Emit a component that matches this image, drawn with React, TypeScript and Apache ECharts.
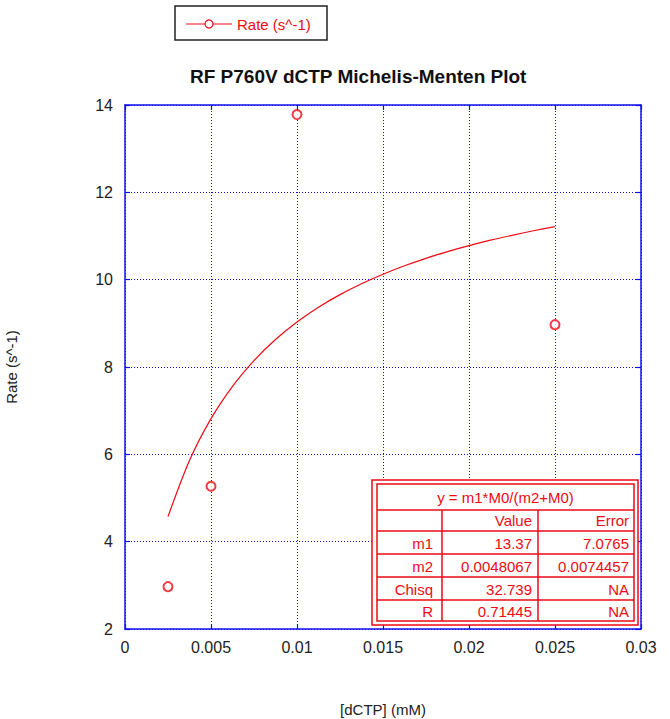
import React, { useEffect, useRef } from "react";
import * as echarts from "echarts";

const seriesName = "Rate (s^-1)";
const chartTitle = "RF P760V dCTP Michelis-Menten Plot";
const xAxisName = "[dCTP] (mM)";
const yAxisName = "Rate (s^-1)";

// measured points
const concentrations = [0.0025, 0.005, 0.01, 0.025];
const rates = [2.97, 5.27, 13.78, 8.97];

// fitted curve
const curveX = [0.0025, 0.00375, 0.005, 0.00625, 0.0075, 0.00875, 0.01, 0.01125, 0.0125, 0.01375, 0.015, 0.01625, 0.0175, 0.01875, 0.02, 0.02125, 0.0225, 0.02375, 0.025];
const curveY = [4.574, 5.859, 6.817, 7.558, 8.148, 8.630, 9.030, 9.368, 9.657, 9.907, 10.125, 10.318, 10.489, 10.642, 10.779, 10.904, 11.016, 11.120, 11.214];

// fit table
const fitEquation = "y = m1*M0/(m2+M0)";
const tableHeader = ["", "Value", "Error"];
const paramNames = ["m1", "m2", "Chisq", "R"];
const paramValues = ["13.37", "0.0048067", "32.739", "0.71445"];
const paramErrors = ["7.0765", "0.0074457", "NA", "NA"];

const RED = "#ee0a14";
const BLUE = "#1010ee";
const FONT = "Liberation Sans, Arial, sans-serif";

export default function App() {
  const ref = useRef<HTMLDivElement>(null);

  useEffect(() => {
    document.body.style.margin = "0";
    const chart = echarts.init(ref.current!, undefined, { renderer: "svg" });

    const tl = 372, tt = 480, tr = 638, tb = 625;
    const il = 377, it = 484, ir = 634, ib = 621;
    const rowLines = [510, 531, 554, 577, 600];
    const colLines = [442, 538];
    const rowCenters = [520, 543, 566, 589, 611];
    const colRights = [433, 532, 629];

    const tableEls: any[] = [];
    tableEls.push({ type: "rect", shape: { x: tl, y: tt, width: tr - tl, height: tb - tt }, style: { fill: "#fff", stroke: RED, lineWidth: 1.5 }, z: 100 });
    tableEls.push({ type: "rect", shape: { x: il, y: it, width: ir - il, height: ib - it }, style: { fill: "#fff", stroke: RED, lineWidth: 1.5 }, z: 101 });
    rowLines.forEach((y) => tableEls.push({ type: "line", shape: { x1: il, y1: y, x2: ir, y2: y }, style: { stroke: RED, lineWidth: 1.5 }, z: 102 }));
    colLines.forEach((x) => tableEls.push({ type: "line", shape: { x1: x, y1: rowLines[0], x2: x, y2: ib }, style: { stroke: RED, lineWidth: 1.5 }, z: 102 }));
    tableEls.push({ type: "text", x: (il + ir) / 2, y: (it + rowLines[0]) / 2, style: { text: fitEquation, fill: RED, font: `15px ${FONT}`, align: "center", verticalAlign: "middle" }, z: 103 });
    const rows = [tableHeader, ...paramNames.map((n, i) => [n, paramValues[i], paramErrors[i]])];
    rows.forEach((row, r) => {
      row.forEach((cell, c) => {
        if (!cell) return;
        tableEls.push({ type: "text", x: colRights[c], y: rowCenters[r], style: { text: cell, fill: RED, font: `15px ${FONT}`, align: "right", verticalAlign: "middle" }, z: 103 });
      });
    });

    const legendEls: any[] = [
      { type: "rect", shape: { x: 175, y: 6, width: 152, height: 34 }, style: { fill: "#fff", stroke: "#222", lineWidth: 1.5 }, z: 100 },
      { type: "line", shape: { x1: 186, y1: 24, x2: 232, y2: 24 }, style: { stroke: RED, lineWidth: 1.2 }, z: 101 },
      { type: "circle", shape: { cx: 209, cy: 24, r: 4 }, style: { fill: "#fff", stroke: RED, lineWidth: 1.2 }, z: 102 },
      { type: "text", x: 237, y: 24, style: { text: seriesName, fill: RED, font: `15px ${FONT}`, align: "left", verticalAlign: "middle" }, z: 102 },
    ];

    const axisCommon = {
      type: "value" as const,
      axisLine: { show: true, onZero: false, lineStyle: { color: BLUE, width: 1.5 } },
      axisTick: { show: true, inside: true, length: 5, lineStyle: { color: BLUE, width: 1.2 } },
    };

    chart.setOption({
      animation: false,
      backgroundColor: "#fff",
      title: {
        text: chartTitle,
        left: 185,
        top: 62,
        textStyle: { fontFamily: FONT, fontSize: 19, fontWeight: "bold", color: "#111" },
      },
      grid: { left: 125, right: 29, top: 105, bottom: 90, containLabel: false, outerBoundsMode: "none" },
      xAxis: [
        {
          ...axisCommon,
          position: "bottom",
          min: 0,
          max: 0.03,
          interval: 0.005,
          name: xAxisName,
          nameLocation: "middle",
          nameGap: 73,
          nameTextStyle: { fontFamily: FONT, fontSize: 15, color: "#222" },
          axisLabel: { color: "#222", fontFamily: FONT, fontSize: 16, margin: 10 },
          splitLine: { show: true, lineStyle: { color: BLUE, type: [1, 2], width: 1 } },
        },
        {
          ...axisCommon,
          position: "top",
          min: 0,
          max: 0.03,
          interval: 0.005,
          axisLabel: { show: false },
          splitLine: { show: false },
        },
      ],
      yAxis: [
        {
          ...axisCommon,
          position: "left",
          min: 2,
          max: 14,
          interval: 2,
          name: yAxisName,
          nameLocation: "middle",
          nameGap: 106,
          nameRotate: 90,
          nameTextStyle: { fontFamily: FONT, fontSize: 15, color: "#222" },
          axisLabel: { color: "#222", fontFamily: FONT, fontSize: 16, margin: 12 },
          splitLine: { show: true, lineStyle: { color: BLUE, type: [1, 2], width: 1 } },
        },
        {
          ...axisCommon,
          position: "right",
          min: 2,
          max: 14,
          interval: 2,
          axisLabel: { show: false },
          splitLine: { show: false },
        },
      ],
      series: [
        {
          name: "fit",
          type: "line",
          data: curveX.map((x, i) => [x, curveY[i]]),
          showSymbol: false,
          smooth: 0.3,
          lineStyle: { color: RED, width: 1.2 },
          z: 3,
        },
        {
          name: seriesName,
          type: "scatter",
          data: concentrations.map((x, i) => [x, rates[i]]),
          symbol: "emptyCircle",
          symbolSize: 9,
          itemStyle: { color: RED, borderColor: RED, borderWidth: 1.2 },
          z: 4,
        },
      ],
      graphic: [...legendEls, ...tableEls],
    });

    return () => chart.dispose();
  }, []);

  return <div ref={ref} style={{ width: 670, height: 719 }} />;
}
